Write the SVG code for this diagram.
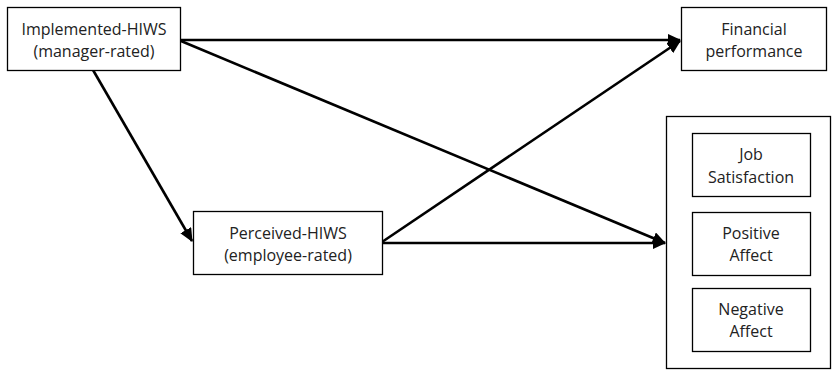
<svg xmlns="http://www.w3.org/2000/svg" width="832" height="372" viewBox="0 0 832 372">
<style>
.box{fill:#fff;stroke:#000;stroke-width:1.3}
.t{font-family:"Open Sans","Liberation Sans",sans-serif;font-size:16px;fill:#222;text-anchor:middle}
.c{stroke:#000;stroke-width:2.6;fill:none;marker-end:url(#ah)}
</style>
<defs>
<marker id="ah" markerWidth="5.2" markerHeight="4.8" refX="4.8" refY="2.4" orient="auto" markerUnits="strokeWidth">
<path d="M0,0 L5.2,2.4 L0,4.8 Z" fill="#000"/>
</marker>
</defs>
<rect width="832" height="372" fill="#fff"/>
<g id="connectors">
<line class="c" x1="181" y1="40" x2="680" y2="40"/>
<line class="c" x1="181" y1="41" x2="665" y2="243"/>
<line class="c" x1="93" y1="70" x2="192" y2="241"/>
<line class="c" x1="382" y1="242" x2="680" y2="41"/>
<line class="c" x1="382" y1="243" x2="665" y2="243"/>
</g>
<g id="implemented">
<rect class="box" x="7.5" y="7.5" width="173" height="63"/>
<text class="t" x="94" y="35">Implemented-HIWS</text>
<text class="t" x="94" y="57">(manager-rated)</text>
</g>
<g id="financial">
<rect class="box" x="681.5" y="7.5" width="145" height="63"/>
<text class="t" x="754" y="35">Financial</text>
<text class="t" x="754" y="57">performance</text>
</g>
<g id="perceived">
<rect class="box" x="193.5" y="211.5" width="189" height="63"/>
<text class="t" x="288" y="239">Perceived-HIWS</text>
<text class="t" x="288" y="261">(employee-rated)</text>
</g>
<g id="outcomes">
<rect class="box" x="666.5" y="116.5" width="164" height="252"/>
</g>
<g id="job">
<rect class="box" x="692.5" y="133.5" width="118" height="63"/>
<text class="t" x="751" y="160">Job</text>
<text class="t" x="751" y="183">Satisfaction</text>
</g>
<g id="positive">
<rect class="box" x="692.5" y="212.5" width="118" height="63"/>
<text class="t" x="751" y="239">Positive</text>
<text class="t" x="751" y="261">Affect</text>
</g>
<g id="negative">
<rect class="box" x="692.5" y="288.5" width="118" height="63"/>
<text class="t" x="751" y="315">Negative</text>
<text class="t" x="751" y="337">Affect</text>
</g>
</svg>
